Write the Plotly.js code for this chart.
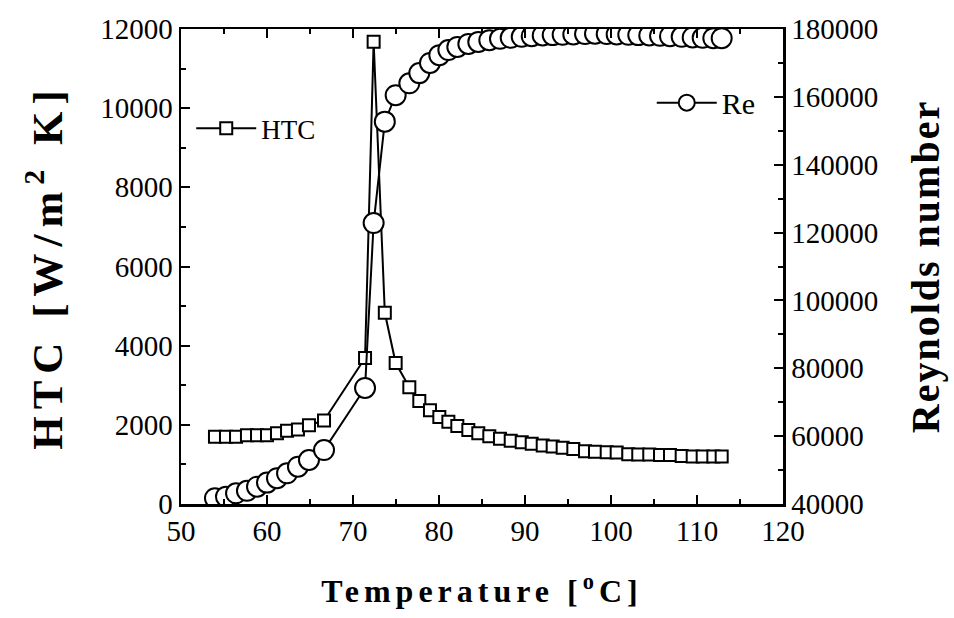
<!DOCTYPE html>
<html>
<head>
<meta charset="utf-8">
<script src="https://cdn.plot.ly/plotly-3.0.1.min.js"></script>
<style>
html,body{margin:0;padding:0;background:#fff;}
#chart{width:954px;height:618px;}
</style>
</head>
<body>
<div id="chart"></div>
<script>
// Temperature [°C]
var temperature = [53.95, 55.23, 56.40, 57.67, 58.84, 60.0, 61.16, 62.33, 63.6, 64.88, 66.63,
  71.4, 72.4, 73.7,
  74.96, 76.55, 77.71, 78.95, 80.04, 81.09, 82.13, 83.41, 84.57, 85.85,
  87.09, 88.34, 89.62, 90.78, 92.06, 93.22, 94.38, 95.62, 96.98, 98.14,
  99.5, 100.66, 102.01, 103.17, 104.45, 105.7, 106.86, 108.22, 109.5, 110.66,
  111.9, 112.87];
// HTC [W/m2 K]
var htc = [1700, 1700, 1700, 1740, 1740, 1740, 1790, 1850, 1880, 1990, 2110,
  3690, 11680, 4830,
  3560, 2950, 2600, 2370, 2200, 2080, 1970, 1870, 1790, 1710,
  1650, 1600, 1560, 1520, 1480, 1450, 1420, 1390, 1330, 1320,
  1310, 1300, 1260, 1250, 1250, 1240, 1240, 1210, 1200, 1200,
  1200, 1200];
// Reynolds number
var reynolds = [41700, 42150, 43150, 43900, 45100, 46300, 47600, 49050, 51000, 52970, 55900,
  74200, 122800, 152700,
  160500, 164000, 167000, 170000, 172300, 173800, 174700, 175600, 176200, 176700,
  177100, 177400, 177700, 177900, 178100, 178200, 178300, 178400, 178500, 178600,
  178500, 178400, 178300, 178200, 178100, 178000, 177900, 177700, 177500, 177400,
  177300, 177300];
var seriesNames = ['HTC', 'Re'];

var serif = 'Liberation Serif';

var traces = [
  {
    x: temperature, y: htc, name: seriesNames[0], type: 'scatter', mode: 'lines+markers',
    line: {color: '#000', width: 2},
    marker: {symbol: 'square', size: 12, color: '#fff', line: {color: '#000', width: 2}},
    xaxis: 'x', yaxis: 'y', legend: 'legend'
  },
  {
    x: temperature, y: reynolds, name: seriesNames[1], type: 'scatter', mode: 'lines+markers',
    line: {color: '#000', width: 2},
    marker: {symbol: 'circle', size: 20, color: '#fff', line: {color: '#000', width: 2}},
    xaxis: 'x', yaxis: 'y2', legend: 'legend2'
  }
];

var tickFont = {family: serif, size: 29, color: '#000'};

var layout = {
  width: 954, height: 618,
  paper_bgcolor: '#fff', plot_bgcolor: '#fff',
  margin: {l: 181, r: 171, t: 29, b: 114, pad: 0},
  showlegend: true,
  xaxis: {
    range: [50, 120], tick0: 50, dtick: 10,
    ticks: 'inside', ticklen: 9, tickwidth: 2, tickcolor: '#000',
    minor: {dtick: 5, ticks: 'inside', ticklen: 5, tickwidth: 2, tickcolor: '#000'},
    showline: true, linewidth: 2.5, linecolor: '#000', mirror: 'ticks',
    showgrid: false, zeroline: false,
    tickfont: tickFont,
    title: {text: '<b>Temperature [<sup>o</sup>C]</b>', font: {family: serif, size: 32, color: '#000'}, standoff: 34},
    automargin: false
  },
  yaxis: {
    range: [0, 12000], tick0: 0, dtick: 2000, tickformat: 'd',
    ticks: 'inside', ticklen: 9, tickwidth: 2, tickcolor: '#000',
    minor: {dtick: 1000, ticks: 'inside', ticklen: 5, tickwidth: 2, tickcolor: '#000'},
    showline: true, linewidth: 2.5, linecolor: '#000',
    showgrid: false, zeroline: false,
    tickfont: tickFont,
    title: {text: '<b>HTC [W/m<sup>2</sup> K]</b>', font: {family: serif, size: 43, color: '#000'}, standoff: 24},
    automargin: false
  },
  yaxis2: {
    overlaying: 'y', side: 'right', anchor: 'x',
    range: [40000, 180000], tick0: 40000, dtick: 20000, tickformat: 'd',
    ticks: 'inside', ticklen: 9, tickwidth: 2, tickcolor: '#000',
    minor: {dtick: 10000, ticks: 'inside', ticklen: 5, tickwidth: 2, tickcolor: '#000'},
    showline: true, linewidth: 2.5, linecolor: '#000',
    showgrid: false, zeroline: false,
    tickfont: tickFont,
    title: {text: '<b>Reynolds number</b>', font: {family: serif, size: 40, color: '#000'}, standoff: 34},
    automargin: false
  },
  legend: {
    x: 0.017, y: 0.79, xanchor: 'left', yanchor: 'middle',
    bgcolor: 'rgba(0,0,0,0)', borderwidth: 0,
    font: {family: serif, size: 27, color: '#000'},
    itemwidth: 60
  },
  legend2: {
    x: 0.782, y: 0.845, xanchor: 'left', yanchor: 'middle',
    bgcolor: 'rgba(0,0,0,0)', borderwidth: 0,
    font: {family: serif, size: 30, color: '#000'},
    itemwidth: 60
  }
};

Plotly.newPlot('chart', traces, layout, {displayModeBar: false, staticPlot: true}).then(function () {
  document.querySelectorAll('.g-xtitle text').forEach(function (t) { t.style.letterSpacing = '5px'; });
  document.querySelectorAll('.g-ytitle text').forEach(function (t) { t.style.letterSpacing = '7px'; });
  document.querySelectorAll('.g-y2title text').forEach(function (t) { t.style.letterSpacing = '2px'; });
});
</script>
</body>
</html>
